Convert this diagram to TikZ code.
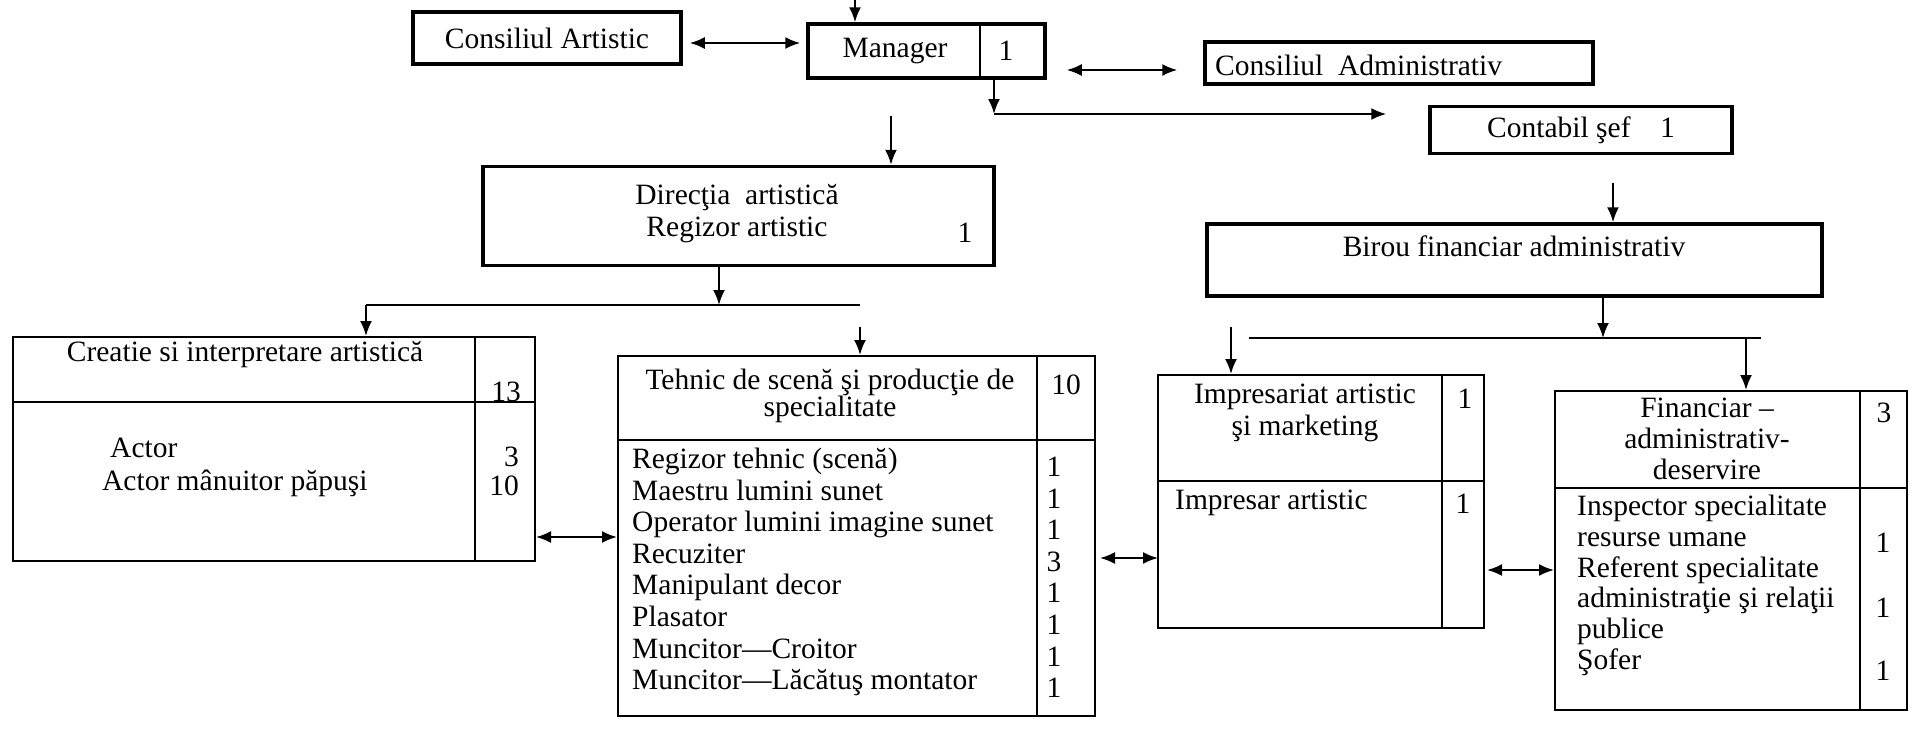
\documentclass[tikz,border=0pt]{standalone}
\usepackage{fontspec}
\setmainfont{Liberation Serif}
\usetikzlibrary{arrows.meta,calc}
\begin{document}
\begin{tikzpicture}[x=1pt,y=-1pt,>={Latex[length=15pt,width=12pt]}]
  \tikzstyle{every node}=[font=\fontsize{29.5}{32}\selectfont, inner sep=0pt]
  \tikzstyle{topbox}=[draw, line width=3.5pt]
  \tikzstyle{subbox}=[draw, line width=2pt]
  \tikzstyle{row}=[anchor=west, text height=20pt, text depth=7pt]
  \tikzstyle{arr}=[line width=2pt]
  \useasboundingbox (0,0) rectangle (1922,739);
  % conducere
  \node[topbox, minimum width=268, minimum height=52] (ca) at (547,38) {Consiliul Artistic};
  \node[topbox, minimum width=237, minimum height=54] (mgr) at (926.5,51) {};
  \draw[line width=2pt] (980,24) -- (980,76);
  \node (mgrt) at (895,51) {Manager};
  \node (mgrn) at (1006,51) {1};
  \node[topbox, minimum width=388, minimum height=42] (cadm) at (1399,63) {};
  \node[anchor=west] (cadmt) at (1215,65) {Consiliul~~Administrativ};
  \node[topbox, minimum width=302, minimum height=47] (cont) at (1581,130) {Contabil şef\quad 1};
  \node[topbox, minimum width=511, minimum height=99] (dir) at (738.5,216) {};
  \node[align=center] (dirt) at (737,214) {Direcţia~~artistică\\Regizor artistic};
  \node (dirn) at (965,233) {1};
  \node[topbox, minimum width=615, minimum height=72] (bir) at (1514.5,260) {};
  \node (birt) at (1514,246) {Birou financiar administrativ};
  % creatie
  \node[subbox, minimum width=522, minimum height=224] (cre) at (274,449) {};
  \draw[line width=1.5pt] (13,402) -- (535,402);
  \draw[line width=1.5pt] (475,337) -- (475,561);
  \node (cret) at (245,355) {Creatie si interpretare artistică};
  \node (crehn) at (506,392) {13};
  \node[row] (cre1) at (110,451) {Actor};
  \node[row] (cre2) at (102,484) {Actor mânuitor păpuşi};
  \node[row, anchor=east] (cren1) at (519,460) {3};
  \node[row, anchor=east] (cren2) at (519,489) {10};
  % tehnic
  \node[subbox, minimum width=477, minimum height=360] (teh) at (856.5,536) {};
  \draw[line width=1.5pt] (618,440) -- (1095,440);
  \draw[line width=1.5pt] (1037,356) -- (1037,716);
  \node[align=center, font=\fontsize{29.5}{25}\selectfont] (teht) at (830,396) {Tehnic de scenă şi producţie de\\specialitate};
  \node (tehhn) at (1066,385) {10};
  \foreach \job/\nr [count=\i from 0] in {Regizor tehnic (scenă)/1, Maestru lumini sunet/1, Operator lumini imagine sunet/1, Recuziter/3, Manipulant decor/1, Plasator/1, Muncitor—Croitor/1, Muncitor—Lăcătuş montator/1}{
    \node[row] (teh\i) at (632,462+31.6*\i) {\job};
    \node[row, anchor=center] (tehn\i) at (1054,470+31.6*\i) {\nr};
  }
  % impresariat
  \node[subbox, minimum width=326, minimum height=253] (imp) at (1321,501.5) {};
  \draw[line width=1.5pt] (1158,481) -- (1484,481);
  \draw[line width=1.5pt] (1442,375) -- (1442,628);
  \node[align=center] (impt) at (1305,413) {Impresariat artistic\\şi marketing};
  \node (imphn) at (1465,399) {1};
  \node[row] (imp1) at (1175,503) {Impresar artistic};
  \node[row, anchor=center] (impn1) at (1463,507) {1};
  % financiar
  \node[subbox, minimum width=352, minimum height=319] (fin) at (1731,550.5) {};
  \draw[line width=1.5pt] (1555,488) -- (1907,488);
  \draw[line width=1.5pt] (1860,391) -- (1860,710);
  \node[align=center, font=\fontsize{29.5}{31}\selectfont] (fint) at (1707,439) {Financiar –\\administrativ-\\deservire};
  \node (finhn) at (1884,413) {3};
  \foreach \t [count=\i from 0] in {Inspector specialitate, resurse umane, Referent specialitate, administraţie şi relaţii, publice, Şofer}
    \node[row] (fin\i) at (1577,509+30.8*\i) {\t};
  \foreach \y [count=\i] in {546,611,674}
    \node[row, anchor=center] (finn\i) at (1883,\y) {1};
  % legaturi sus
  \coordinate (mtop) at (855,0);
  \draw[arr,->] (mtop) -- (mtop |- mgr.north);
  \draw[arr,<->] ($(ca.east)+(7,5)$) -- ($(mgr.west)+(-6,-8)$);
  \draw[arr,<->] ($(mgr.east)+(20,19)$) -- ($(cadm.west)+(-26,7)$);
  \coordinate (mbot) at (994,114);
  \draw[arr,->] (mbot |- mgr.south) -- (mbot);
  \draw[arr,->] (mbot) -- ($(cont.west)+(-42,-16)$);
  \coordinate (dtop) at (891,116);
  \draw[arr,->] (dtop) -- (dtop |- dir.north);
  \coordinate (btop) at (1613,183);
  \draw[arr,->] (btop) -- (btop |- bir.north);
  % directia artistica
  \coordinate (dbus) at (719,305);
  \coordinate (dbl) at (366,305);
  \coordinate (dbr) at (860,305);
  \draw[arr,->] (dbus |- dir.south) -- (dbus);
  \draw[arr] (dbl) -- (dbr);
  \draw[arr,->] (dbl) -- (dbl |- cre.north);
  \coordinate (tehtop) at (860,327);
  \draw[arr,->] (tehtop) -- (tehtop |- teh.north);
  % birou financiar
  \coordinate (bbus) at (1603,338);
  \coordinate (bbl) at (1249,338);
  \coordinate (bbr) at (1761,338);
  \draw[arr,->] (bbus |- bir.south) -- (bbus);
  \draw[arr] (bbl) -- (bbr);
  \coordinate (imptop) at (1231,327);
  \draw[arr,->] (imptop) -- (imptop |- imp.north);
  \coordinate (fintop) at (1746,338);
  \draw[arr,->] (fintop) -- (fintop |- fin.north);
  % legaturi jos
  \draw[arr,<->] ($(cre.east)+(0,88)$) -- ($(teh.west)+(0,1)$);
  \draw[arr,<->] ($(teh.east)+(4,22)$) -- ($(imp.west)+(1,56.5)$);
  \draw[arr,<->] ($(imp.east)+(2,68.5)$) -- ($(fin.west)+(0,19.5)$);
\end{tikzpicture}
\end{document}
